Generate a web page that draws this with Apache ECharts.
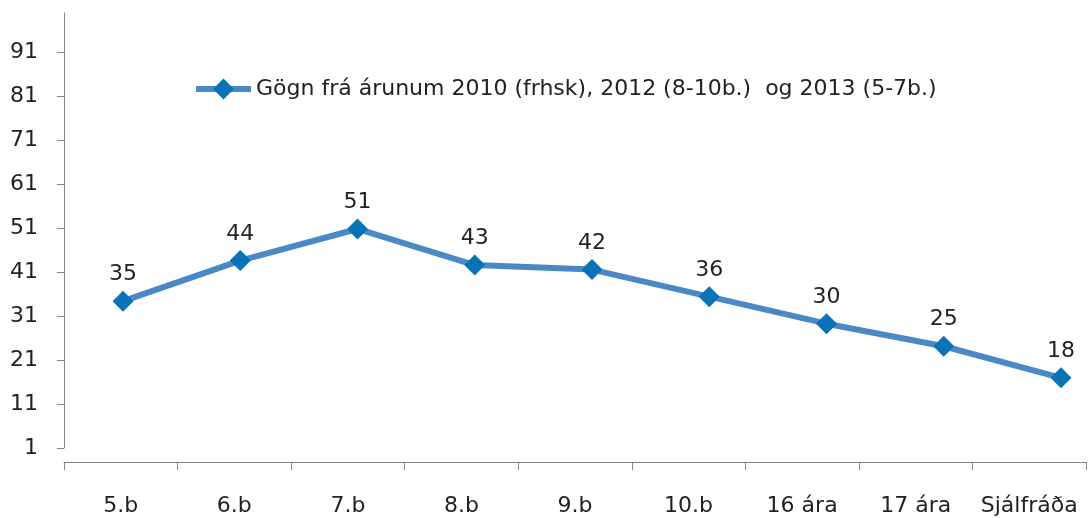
<!DOCTYPE html>
<html>
<head>
<meta charset="utf-8">
<script src="https://cdn.jsdelivr.net/npm/echarts@6/dist/echarts.min.js"></script>
<style>
  html, body { margin: 0; padding: 0; background: #fff; }
  #chart { width: 1090px; height: 518px; }
</style>
</head>
<body>
<div id="chart"></div>
<script>
// categories and values
const categories = ['5.b', '6.b', '7.b', '8.b', '9.b', '10.b', '16 ára', '17 ára', 'Sjálfráða']
const values = [35, 44, 51, 43, 42, 36, 30, 25, 18]
const yTicks = [1, 11, 21, 31, 41, 51, 61, 71, 81, 91]
const seriesName = 'Gögn frá árunum 2010 (frhsk), 2012 (8-10b.)  og 2013 (5-7b.)'

const textColor = '#222222'
const axisColor = '#868686'
const lineColor = '#4a89c6'
const markerColor = '#0a72b6'
const font = '"DejaVu Sans", sans-serif'

const chart = echarts.init(document.getElementById('chart'))

const option = {
  animation: false,
  textStyle: { fontFamily: font },
  legend: {
    data: [seriesName],
    left: 193,
    top: 78,
    padding: 0,
    itemWidth: 55,
    itemHeight: 26,
    itemGap: 10,
    lineStyle: { width: 6, color: lineColor },
    itemStyle: { color: markerColor },
    textStyle: { color: textColor, fontSize: 22, fontFamily: font }
  },
  // grid 0 holds the visible axes, grid 1 the (hidden) axes the line is drawn on
  grid: [
    { left: 64, right: 4, top: 13, bottom: 70 },
    { left: 123, right: 29, top: 8, bottom: 59 }
  ],
  xAxis: [
    {
      type: 'category',
      gridIndex: 0,
      data: categories,
      offset: 14,
      boundaryGap: true,
      axisLine: { lineStyle: { color: axisColor, width: 1 } },
      axisTick: { show: true, length: 8, lineStyle: { color: axisColor } },
      axisLabel: { color: textColor, fontSize: 22, margin: 33, interval: 0 }
    },
    {
      type: 'category',
      gridIndex: 1,
      data: categories,
      boundaryGap: false,
      show: false
    }
  ],
  yAxis: [
    {
      type: 'value',
      gridIndex: 0,
      min: 1,
      max: 100,
      axisLine: { show: true, lineStyle: { color: axisColor, width: 1 } },
      axisTick: { show: true, length: 7, customValues: yTicks, lineStyle: { color: axisColor } },
      axisLabel: { color: textColor, fontSize: 22, margin: 26, customValues: yTicks },
      splitLine: { show: false }
    },
    {
      type: 'value',
      gridIndex: 1,
      min: 0,
      max: 100,
      show: false,
      splitLine: { show: false }
    }
  ],
  series: [
    {
      name: seriesName,
      type: 'line',
      xAxisIndex: 1,
      yAxisIndex: 1,
      data: values,
      symbol: 'diamond',
      symbolSize: 21,
      lineStyle: { color: lineColor, width: 6 },
      itemStyle: { color: markerColor },
      label: {
        show: true,
        position: 'top',
        distance: 5,
        color: textColor,
        fontSize: 22,
        fontFamily: font
      }
    }
  ]
}
chart.setOption(option)
</script>
</body>
</html>
